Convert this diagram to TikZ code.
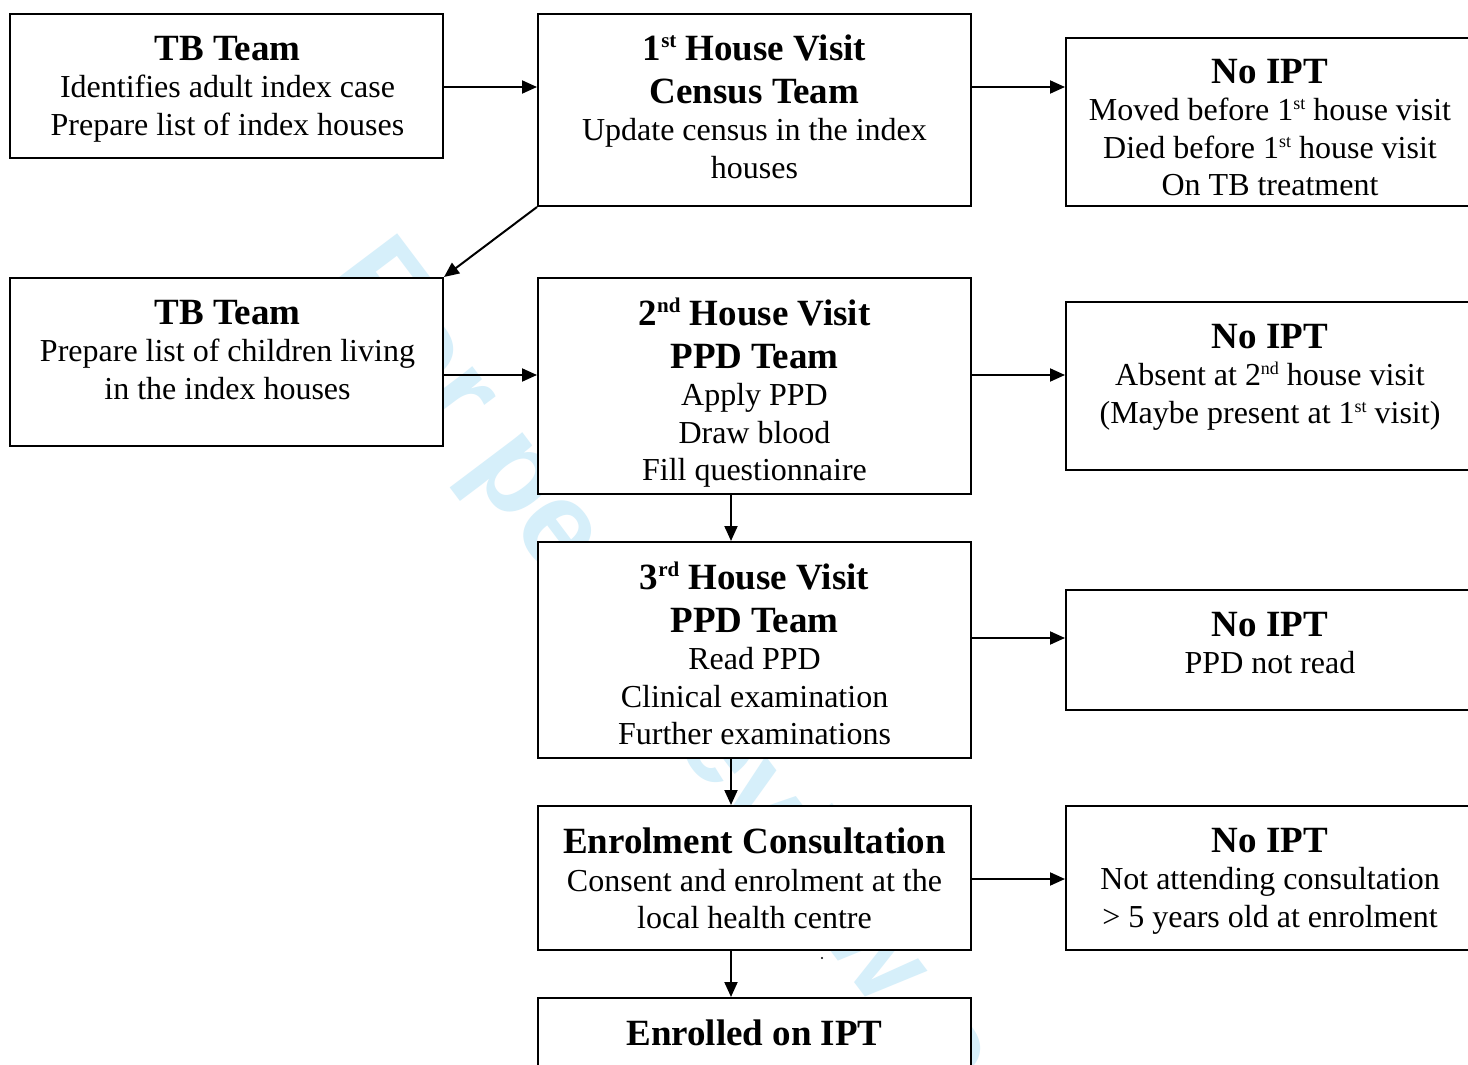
\documentclass[tikz,border=0pt]{standalone}
\usepackage{fontspec}
\setmainfont{Liberation Serif}
\newfontfamily\wmfont{Liberation Sans}
\usetikzlibrary{arrows.meta,calc}
\definecolor{wmblue}{RGB}{214,239,250}
\newcommand\ttl[1]{{\fontsize{37}{44}\selectfont\bfseries #1}}
\newcommand\tsup[1]{\raisebox{13pt}{\fontsize{21}{21}\selectfont #1}}
\newcommand\bsup[1]{\raisebox{11pt}{\fontsize{18}{18}\selectfont #1}}
\begin{document}
\begin{tikzpicture}[x=1pt,y=-1pt,
  box/.style={draw=black,line width=2pt,fill=white,inner sep=0pt},
  txt/.style={align=center,inner sep=0pt,anchor=north,font=\fontsize{32}{37.5}\selectfont},
  arr/.style={line width=2pt,-{Triangle[length=15pt,width=13pt]}}]
\useasboundingbox (0,0) rectangle (1468,1065);
\clip (0,0) rectangle (1468,1065);
\fill[white] (0,0) rectangle (1468,1065);
% watermark
\node[rotate=-53,anchor=base west,text=wmblue,inner sep=0pt,
  font={\wmfont\bfseries\fontsize{124}{124}\selectfont}] (wm) at (324,278) {For peer review only};
% boxes
\node[box,minimum width=433pt,minimum height=144pt] (A) at (226.5,86) {};
\node[box,minimum width=433pt,minimum height=192pt] (B) at (754.5,110) {};
\node[box,minimum width=408pt,minimum height=168pt] (C) at (1270,122) {};
\node[box,minimum width=433pt,minimum height=168pt] (D) at (226.5,362) {};
\node[box,minimum width=433pt,minimum height=216pt] (E) at (754.5,386) {};
\node[box,minimum width=408pt,minimum height=168pt] (F) at (1270,386) {};
\node[box,minimum width=433pt,minimum height=216pt] (G) at (754.5,650) {};
\node[box,minimum width=408pt,minimum height=120pt] (H) at (1270,650) {};
\node[box,minimum width=433pt,minimum height=144pt] (I) at (754.5,878) {};
\node[box,minimum width=408pt,minimum height=144pt] (J) at (1270,878) {};
\node[box,minimum width=433pt,minimum height=72pt] (K) at (754.5,1034) {};
% texts
\node[txt] (At) at (227.5,36) {\ttl{TB Team}\\Identifies adult index case\\Prepare list of index houses};
\node[txt] (Bt) at (754.5,35) {\ttl{1\tsup{st} House Visit}\\[5pt]\ttl{Census Team}\\Update census in the index\\houses};
\node[txt] (Ct) at (1270,59) {\ttl{No IPT}\\Moved before 1\bsup{st} house visit\\Died before 1\bsup{st} house visit\\On TB treatment};
\node[txt] (Dt) at (227.5,300) {\ttl{TB Team}\\Prepare list of children living\\in the index houses};
\node[txt] (Et) at (754.5,298) {\ttl{2\tsup{nd} House Visit}\\[5pt]\ttl{PPD Team}\\Apply PPD\\Draw blood\\Fill questionnaire};
\node[txt] (Ft) at (1270,324) {\ttl{No IPT}\\Absent at 2\bsup{nd} house visit\\(Maybe present at 1\bsup{st} visit)};
\node[txt] (Gt) at (754.5,562) {\ttl{3\tsup{rd} House Visit}\\[5pt]\ttl{PPD Team}\\Read PPD\\Clinical examination\\Further examinations};
\node[txt] (Ht) at (1270,612) {\ttl{No IPT}\\PPD not read};
\node[txt] (It) at (754.5,828) {\ttl{Enrolment Consultation}\\Consent and enrolment at the\\local health centre};
\node[txt] (Jt) at (1270,828) {\ttl{No IPT}\\Not attending consultation\\> 5 years old at enrolment};
\node[txt] (Kt) at (754.5,1020) {\ttl{Enrolled on IPT}};
\fill (822,958) circle (1.2);
% helper coordinates
\coordinate (r1) at (0,87);
\coordinate (r2) at (0,375);
\coordinate (r3) at (0,638);
\coordinate (r4) at (0,879);
\coordinate (vx) at (731,0);
% connectors
\draw[arr] (A.east |- r1) -- (B.west |- r1);
\draw[arr] (B.east |- r1) -- (C.west |- r1);
\draw[arr] (B.south west) -- (D.north east);
\draw[arr] (D.east |- r2) -- (E.west |- r2);
\draw[arr] (E.east |- r2) -- (F.west |- r2);
\draw[arr] (E.south -| vx) -- (G.north -| vx);
\draw[arr] (G.east |- r3) -- (H.west |- r3);
\draw[arr] (G.south -| vx) -- (I.north -| vx);
\draw[arr] (I.east |- r4) -- (J.west |- r4);
\draw[arr] (I.south -| vx) -- (K.north -| vx);
\end{tikzpicture}
\end{document}
